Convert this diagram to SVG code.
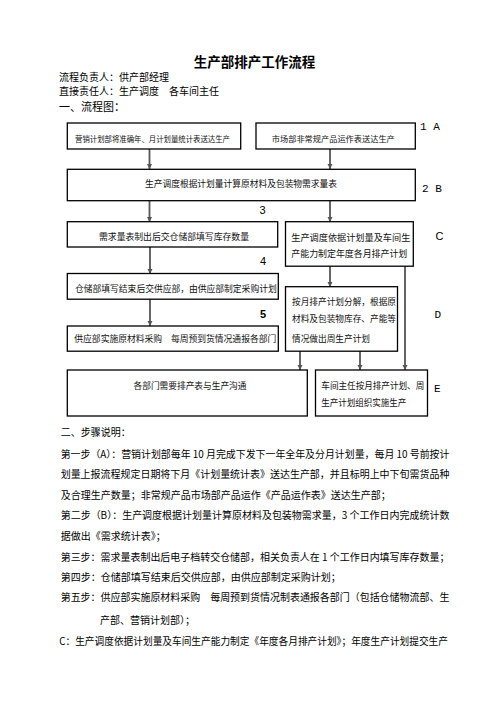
<svg xmlns="http://www.w3.org/2000/svg" width="496" height="702" viewBox="0 0 496 702">
<defs>
<style>
.t{font-family:"Noto Sans CJK SC","Liberation Sans",sans-serif;fill:#000}
.b{fill:#fff;stroke:#000;stroke-width:1.3}
.bx{font-family:"Noto Sans CJK SC","Liberation Sans",sans-serif;fill:#111}
.lbl{font-family:"Liberation Mono",monospace;font-size:11px;fill:#000}
.num{font-family:"Liberation Sans",sans-serif;font-size:11px;fill:#000}
.c{stroke:#555;stroke-width:1.8;fill:none;marker-end:url(#ah)}
</style>
<marker id="ah" markerUnits="userSpaceOnUse" markerWidth="6" markerHeight="6" refX="5" refY="3" orient="auto">
<path d="M0,0.5 L5,3 L0,5.5 z" fill="#555"/>
</marker>
</defs>
<rect width="496" height="702" fill="#fff"/>

<text class="t" x="254.5" y="66.8" font-size="13.5" font-weight="bold" text-anchor="middle">生产部排产工作流程</text>
<text class="t" x="59" y="80.5" font-size="10">流程负责人：供产部经理</text>
<text class="t" x="59" y="94.8" font-size="10">直接责任人：生产调度　各车间主任</text>
<text class="t" x="59" y="111" font-size="11">一、流程图：</text>

<g id="connectors">
<line class="c" x1="149.5" y1="149" x2="149.5" y2="169"/>
<line class="c" x1="330" y1="149" x2="330" y2="169"/>
<line class="c" x1="149.5" y1="201" x2="149.5" y2="222"/>
<line class="c" x1="330" y1="201" x2="330" y2="222"/>
<line class="c" x1="150" y1="247" x2="150" y2="274"/>
<line class="c" x1="150" y1="299" x2="150" y2="326"/>
<line class="c" x1="330" y1="266" x2="330" y2="287"/>
<line class="c" x1="405" y1="266" x2="405" y2="370"/>
<line class="c" x1="300" y1="351" x2="300" y2="370"/>
<line class="c" x1="360" y1="351" x2="360" y2="370"/>
</g>

<g id="n1">
<rect class="b" x="67.3" y="123" width="173.4" height="26"/>
<text class="bx" x="75" y="141.9" font-size="7.5" textLength="155" lengthAdjust="spacingAndGlyphs">营销计划部将准确年、月计划量统计表送达生产</text>
</g>
<g id="n2">
<rect class="b" x="256" y="123" width="159.3" height="26"/>
<text class="bx" x="333.3" y="142.1" font-size="8.2" text-anchor="middle" textLength="123" lengthAdjust="spacingAndGlyphs">市场部非常规产品运作表送达生产</text>
</g>
<g id="nB">
<rect class="b" x="67.3" y="169.3" width="348" height="31.4"/>
<text class="bx" x="241" y="187.3" font-size="8.7" text-anchor="middle" textLength="192" lengthAdjust="spacingAndGlyphs">生产调度根据计划量计算原材料及包装物需求量表</text>
</g>
<g id="n3">
<rect class="b" x="67.3" y="221.7" width="210.4" height="25.3"/>
<text class="bx" x="174" y="240" font-size="8.8" text-anchor="middle" textLength="150" lengthAdjust="spacingAndGlyphs">需求量表制出后交仓储部填写库存数量</text>
</g>
<g id="nC">
<rect class="b" x="285.5" y="221.7" width="127.8" height="44.5"/>
<text class="bx" x="291.3" y="240.6" font-size="9" textLength="119" lengthAdjust="spacingAndGlyphs">生产调度依据计划量及车间生</text>
<text class="bx" x="291.3" y="257.4" font-size="9" textLength="116" lengthAdjust="spacingAndGlyphs">产能力制定年度各月排产计划</text>
</g>
<g id="n4">
<rect class="b" x="67.3" y="273.5" width="211" height="25.7"/>
<text class="bx" x="75" y="292" font-size="8.8" textLength="201.7" lengthAdjust="spacingAndGlyphs">仓储部填写结束后交供应部，由供应部制定采购计划</text>
</g>
<g id="n5">
<rect class="b" x="67.3" y="326" width="211" height="25.2"/>
<text class="bx" x="74.3" y="342.3" font-size="8.8" textLength="202" lengthAdjust="spacingAndGlyphs">供应部实施原材料采购　每周预到货情况通报各部门</text>
</g>
<g id="nD">
<rect class="b" x="285.5" y="286.7" width="112" height="64.5"/>
<text class="bx" x="292" y="304.5" font-size="8.7" textLength="104" lengthAdjust="spacingAndGlyphs">按月排产计划分解，根据原</text>
<text class="bx" x="292" y="322" font-size="8.7" textLength="104" lengthAdjust="spacingAndGlyphs">材料及包装物库存、产能等</text>
<text class="bx" x="292" y="342" font-size="8.7" textLength="78" lengthAdjust="spacingAndGlyphs">情况做出周生产计划</text>
</g>
<g id="nE1">
<rect class="b" x="67.3" y="370" width="240" height="46"/>
<text class="bx" x="190" y="388.8" font-size="8.7" text-anchor="middle" textLength="113" lengthAdjust="spacingAndGlyphs">各部门需要排产表与生产沟通</text>
</g>
<g id="nE2">
<rect class="b" x="315.5" y="370" width="112" height="46"/>
<text class="bx" x="321.3" y="388.8" font-size="8.8" textLength="103" lengthAdjust="spacingAndGlyphs">车间主任按月排产计划、周</text>
<text class="bx" x="321.3" y="406.3" font-size="8.8" textLength="85" lengthAdjust="spacingAndGlyphs">生产计划组织实施生产</text>
</g>

<g id="labels">
<text class="lbl" x="420" y="130">1 A</text>
<text class="lbl" x="422" y="191.5">2 B</text>
<text class="num" x="259.5" y="214">3</text>
<text class="num" x="435.5" y="240">C</text>
<text class="num" x="260" y="265">4</text>
<text class="num" x="260" y="318" font-weight="bold">5</text>
<text class="lbl" x="434.5" y="318">D</text>
<text class="lbl" x="434" y="392">E</text>
</g>

<g id="steps" font-size="10">
<text class="t" x="60.7" y="436.3">二、步骤说明：</text>
<text class="t" x="60.7" y="457.8" textLength="388.7" lengthAdjust="spacingAndGlyphs">第一步（A）：营销计划部每年 10 月完成下发下一年全年及分月计划量，每月 10 号前按计</text>
<text class="t" x="60.7" y="478.3" textLength="388.7" lengthAdjust="spacingAndGlyphs">划量上报流程规定日期将下月《计划量统计表》送达生产部，并且标明上中下旬需货品种</text>
<text class="t" x="60.7" y="498.8">及合理生产数量；非常规产品市场部产品运作《产品运作表》送达生产部；</text>
<text class="t" x="60.7" y="519.3" textLength="388.7" lengthAdjust="spacingAndGlyphs">第二步（B）：生产调度根据计划量计算原材料及包装物需求量，3 个工作日内完成统计数</text>
<text class="t" x="60.7" y="540.3">据做出《需求统计表》；</text>
<text class="t" x="60.7" y="560.8" textLength="388.7" lengthAdjust="spacingAndGlyphs">第三步：需求量表制出后电子档转交仓储部，相关负责人在 1 个工作日内填写库存数量；</text>
<text class="t" x="60.7" y="580.8">第四步：仓储部填写结束后交供应部，由供应部制定采购计划；</text>
<text class="t" x="60.7" y="601.3" textLength="388.7" lengthAdjust="spacingAndGlyphs">第五步：供应部实施原材料采购　每周预到货情况制表通报各部门（包括仓储物流部、生</text>
<text class="t" x="100" y="623.5">产部、营销计划部）；</text>
<text class="t" x="59.3" y="644.8" textLength="388.7" lengthAdjust="spacingAndGlyphs">C：生产调度依据计划量及车间生产能力制定《年度各月排产计划》；年度生产计划提交生产</text>
</g>
</svg>
